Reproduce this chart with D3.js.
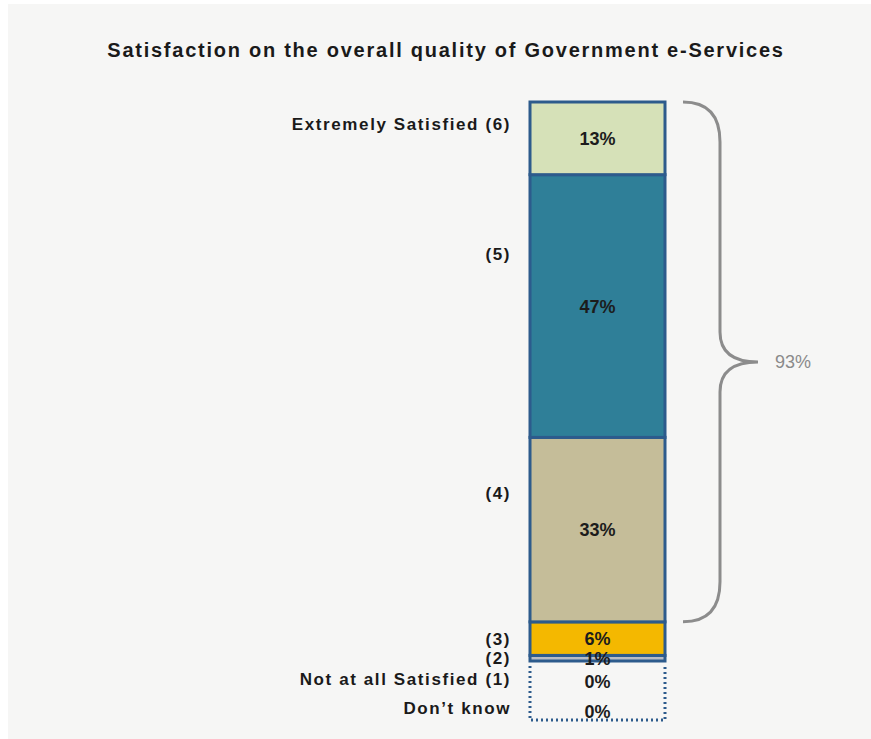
<!DOCTYPE html>
<html>
<head>
<meta charset="utf-8">
<script src="https://cdn.jsdelivr.net/npm/d3@7"></script>
<style>
  html, body { margin: 0; padding: 0; background: #ffffff; }
  svg { display: block; }
</style>
</head>
<body>
<div id="chart"></div>
<script>
// Stacked segments, bottom to top
const levels = ['(2)', '(3)', '(4)', '(5)', 'Extremely Satisfied (6)'];
const shares = [1, 6, 33, 47, 13];
const fills = ['#b8bcc4', '#f4b800', '#c5bd99', '#2f7f98', '#d6e1b8'];

// Zero-value rows shown in the dotted box under the bar
const emptyLevels = ['Not at all Satisfied  (1)', 'Don\u2019t know'];
const emptyShares = [0, 0];

// Bracket over the satisfied levels (4)-(6)
const bracketLevels = ['(4)', '(5)', 'Extremely Satisfied (6)'];
const bracketLabel = '93%';

const title = 'Satisfaction on the overall quality of Government e-Services';

const W = 871, H = 739;
const svg = d3.select('#chart').append('svg')
    .attr('width', W)
    .attr('height', H)
    .style('font-family', '"Liberation Sans", Arial, sans-serif');

// Panel background
svg.append('rect')
    .attr('x', 8).attr('y', 4)
    .attr('width', W - 8).attr('height', H - 4)
    .attr('fill', '#f6f6f5');

svg.append('text')
    .attr('x', 446)
    .attr('y', 57)
    .attr('text-anchor', 'middle')
    .style('font-size', '20px')
    .style('font-weight', 'bold')
    .style('letter-spacing', '1.75px')
    .attr('fill', '#1a1a1a')
    .text(title);

// Build stack
let acc = 0;
const data = levels.map((l, i) => {
    const d = { level: l, value: shares[i], fill: fills[i], y0: acc, y1: acc + shares[i] };
    acc += shares[i];
    return d;
});

const barX = 530, barW = 135;
const y = d3.scaleLinear().domain([0, 100]).range([661, 102]);

const seg = svg.append('g');
seg.selectAll('rect')
    .data(data)
    .enter()
    .append('rect')
    .attr('x', barX)
    .attr('y', d => y(d.y1))
    .attr('width', barW)
    .attr('height', d => y(d.y0) - y(d.y1))
    .attr('fill', d => d.fill)
    .attr('stroke', '#2d5b8c')
    .attr('stroke-width', 3);

seg.selectAll('text.val')
    .data(data)
    .enter()
    .append('text')
    .attr('class', 'val')
    .attr('x', barX + barW / 2)
    .attr('y', d => (y(d.y0) + y(d.y1)) / 2)
    .attr('dy', '0.36em')
    .attr('text-anchor', 'middle')
    .style('font-size', '18px')
    .style('font-weight', 'bold')
    .attr('fill', '#1c1c1c')
    .text(d => d.value + '%');

// Category labels to the left of the bar
svg.append('g').selectAll('text')
    .data(data)
    .enter()
    .append('text')
    .attr('x', 511)
    .attr('y', d => {
        const top = y(d.y1), h = y(d.y0) - y(d.y1);
        return h > 40 ? top + h * 0.3 : top + h / 2;
    })
    .attr('dy', '0.36em')
    .attr('text-anchor', 'end')
    .style('font-size', '17px')
    .style('font-weight', 'bold')
    .style('letter-spacing', '1.6px')
    .attr('fill', '#1a1a1a')
    .text(d => d.level);

// Dotted box for the zero rows
const rows = d3.scaleBand()
    .domain(emptyLevels)
    .range([y(0), 720]);

const boxTop = y(0) + 5, boxBottom = rows.range()[1];
svg.append('path')
    .attr('d', `M${barX},${boxTop}V${boxBottom}H${barX + barW}V${boxTop}`)
    .attr('fill', 'none')
    .attr('stroke', '#2d5b8c')
    .attr('stroke-width', 3)
    .attr('stroke-dasharray', '2,3');

svg.append('g').selectAll('text')
    .data(emptyLevels)
    .enter()
    .append('text')
    .attr('x', barX + barW / 2)
    .attr('y', d => rows(d) + rows.bandwidth() / 2 + 6)
    .attr('dy', '0.36em')
    .attr('text-anchor', 'middle')
    .style('font-size', '18px')
    .style('font-weight', 'bold')
    .attr('fill', '#1c1c1c')
    .text((d, i) => emptyShares[i] + '%');

svg.append('g').selectAll('text')
    .data(emptyLevels)
    .enter()
    .append('text')
    .attr('x', 511)
    .attr('y', d => rows(d) + rows.bandwidth() / 2 + 3)
    .attr('dy', '0.36em')
    .attr('text-anchor', 'end')
    .style('font-size', '17px')
    .style('font-weight', 'bold')
    .style('letter-spacing', '1.6px')
    .attr('fill', '#1a1a1a')
    .text(d => d);

// Curly bracket spanning the satisfied levels
const inBracket = data.filter(d => bracketLevels.includes(d.level));
const bTop = y(d3.max(inBracket, d => d.y1));
const bBot = y(d3.min(inBracket, d => d.y0));
const bMid = (bTop + bBot) / 2;
const x0 = 683, x1 = 720, xt = 758;
const brace = d3.path();
brace.moveTo(x0, bTop);
brace.quadraticCurveTo(x1, bTop, x1, bTop + 40);
brace.lineTo(x1, bMid - 30);
brace.quadraticCurveTo(x1, bMid, xt, bMid);
brace.quadraticCurveTo(x1, bMid, x1, bMid + 30);
brace.lineTo(x1, bBot - 40);
brace.quadraticCurveTo(x1, bBot, x0, bBot);

svg.append('path')
    .attr('d', brace.toString())
    .attr('fill', 'none')
    .attr('stroke', '#8c8c8c')
    .attr('stroke-width', 3);

svg.append('text')
    .attr('x', 775)
    .attr('y', bMid)
    .attr('dy', '0.36em')
    .style('font-size', '18px')
    .attr('fill', '#8a8a8a')
    .text(bracketLabel);
</script>
</body>
</html>
